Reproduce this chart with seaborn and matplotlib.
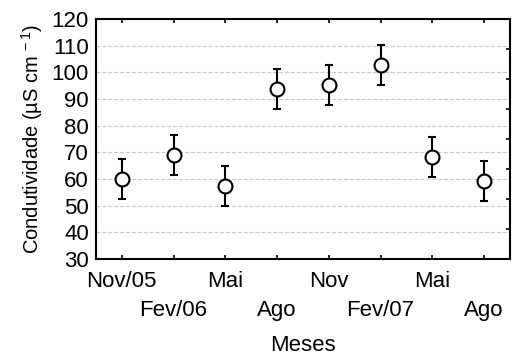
import numpy as np
import pandas as pd
import matplotlib
matplotlib.use("Agg")
import matplotlib.pyplot as plt
import seaborn as sns

# values
meses = ["Nov/05", "Fev/06", "Mai", "Ago", "Nov", "Fev/07", "Mai", "Ago"]
condutividade = [59.8, 68.9, 57.5, 93.7, 95.1, 102.7, 68.1, 59.2]
erro = [7.5, 7.5, 7.5, 7.5, 7.5, 7.5, 7.5, 7.5]
yticks = [30, 40, 50, 60, 70, 80, 90, 100, 110, 120]

sns.set_style("white")
plt.rcParams["font.family"] = ["Liberation Sans", "DejaVu Sans"]
plt.rcParams["mathtext.fontset"] = "custom"
plt.rcParams["mathtext.rm"] = "Liberation Sans"
plt.rcParams["text.color"] = "black"
plt.rcParams["axes.labelcolor"] = "black"
plt.rcParams["xtick.color"] = "black"
plt.rcParams["ytick.color"] = "black"

df = pd.DataFrame({"cond": condutividade, "erro": erro})
pos = np.arange(len(meses))

fig, ax = plt.subplots(figsize=(5.13, 3.58), dpi=100)
fig.subplots_adjust(left=0.187, right=0.994, top=0.947, bottom=0.277)

ax.errorbar(pos, df["cond"], yerr=df["erro"], fmt="none", ecolor="black",
            elinewidth=1.5, capsize=2.8, capthick=1.5, zorder=2)
sns.scatterplot(x=pos, y=df["cond"], ax=ax, marker="o", s=100, color="white",
                edgecolor="black", linewidth=1.5, zorder=3, legend=False)

ax.set_xlim(-0.5, len(meses) - 0.5)
ax.set_ylim(30, 120)
ax.set_yticks(yticks)

# two rows of month labels: even ones on major ticks, odd ones on minor ticks
ax.set_xticks(pos[::2])
ax.set_xticklabels(meses[::2], fontsize=16)
ax.set_xticks(pos[1::2], minor=True)
ax.set_xticklabels(meses[1::2], minor=True, fontsize=16)
ax.tick_params(axis="x", which="both", direction="in", length=3, width=1.2, top=True, bottom=True)
ax.tick_params(axis="x", which="major", pad=9)
ax.tick_params(axis="x", which="minor", pad=29.5)
ax.tick_params(axis="y", labelsize=16, length=0, pad=5)

for s in ax.spines.values():
    s.set_linewidth(1.5)
    s.set_color("black")

ax.grid(axis="y", color="#c8c8c8", linestyle="--", linewidth=0.8)
ax.set_axisbelow(True)

ax.set_xlabel("Meses", fontsize=16, labelpad=10)
ax.set_ylabel("Condutividade (µS cm$^{\\,-1}$)", fontsize=14.5, labelpad=5)

# right side ticks (evenly divided, no labels)
ax2 = ax.twinx()
ax2.set_ylim(0, 8)
ax2.set_yticks(range(1, 8))
ax2.set_yticklabels([])
ax2.tick_params(axis="y", direction="in", length=3, width=1.2)
for s in ax2.spines.values():
    s.set_visible(False)

fig.savefig("out.png", dpi=100)
